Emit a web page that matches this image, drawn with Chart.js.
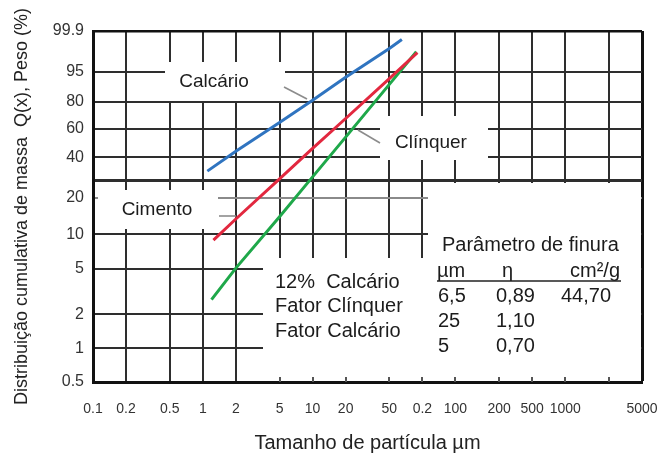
<!DOCTYPE html>
<html>
<head>
<meta charset="utf-8">
<script src="https://cdn.jsdelivr.net/npm/chart.js@4/dist/chart.umd.min.js"></script>
<style>
html,body{margin:0;padding:0;background:#fff}
#wrap{width:663px;height:455px;position:relative}
</style>
</head>
<body>
<div id="wrap"><canvas id="c" width="663" height="455"></canvas></div>
<script>
// ---- Data ----
const xGridValues = [0.1,0.2,0.5,1,2,5,10,20,50,100,200,500,1000,2000,5000,10000];
const xTickLabels = ["0.1","0.2","0.5","1","2","5","10","20","50","0.2","100","200","500","1000","","5000"];
const yGridValues = [0.5,1,2,5,10,20,27,40,60,80,95,99.9];
const yTickLabels = ["0.5","1","2","5","10","20","","40","60","80","95","99.9"];

const calcarioX = [1.1, 2, 5, 10, 20, 50, 65];
const calcarioQ = [32, 44, 65, 81, 93, 99.2, 99.7];
const cimentoX  = [1.25, 2, 5, 10, 20, 50, 90];
const cimentoQ  = [8.9, 13.4, 28, 46, 68, 92.5, 98.8];
const clinquerX = [1.2, 2, 5, 10, 20, 50, 88];
const clinquerQ = [2.7, 5.1, 14, 29, 54, 90, 98.9];

const tableTitle = "Parâmetro de finura";
const tableHead = ["µm", "η", "cm²/g"];
const tableRows = [["6,5","0,89","44,70"],["25","1,10",""],["5","0,70",""]];
const mixLines = ["12%  Calcário", "Fator Clínquer", "Fator Calcário"];

// RRSB transform
const rr = q => Math.log(-Math.log(1 - q / 100));
const pts = (xs, qs) => xs.map((x, i) => ({x: x, y: rr(qs[i])}));

const FONT = "'Liberation Sans', Arial, sans-serif";

// ---- Annotation layout (pixels) ----
const whiteBoxes = [
  [165, 62, 285, 101],   // Calcário label
  [380, 116, 488, 160],  // Clínquer label
  [98, 190, 218, 229],   // Cimento label
  [263, 258, 641, 379],  // lower text area
  [428, 183, 641, 258]   // table area
];
const pointers = [
  [284, 87, 307, 99],
  [380, 143, 358, 130],
  [219, 216, 236, 216]
];

const annot = {
  id: 'annot',
  beforeDatasetsDraw(chart) {
    const c = chart.ctx;
    c.save();
    c.fillStyle = '#fff';
    whiteBoxes.forEach(b => c.fillRect(b[0], b[1], b[2] - b[0], b[3] - b[1]));
    const xs = chart.scales.x, bottom = chart.chartArea.bottom;
    c.strokeStyle = '#555'; c.lineWidth = 2;
    xGridValues.forEach(v => {
      if (v >= 5 && v < 10000) {
        const px = Math.round(xs.getPixelForValue(v));
        c.beginPath(); c.moveTo(px, bottom); c.lineTo(px, bottom - 5); c.stroke();
      }
    });
    c.strokeStyle = '#8c8c8c'; c.lineWidth = 1.6;
    pointers.forEach(p => { c.beginPath(); c.moveTo(p[0], p[1]); c.lineTo(p[2], p[3]); c.stroke(); });
    c.restore();
  },
  afterDatasetsDraw(chart) {
    const c = chart.ctx;
    c.save();
    c.fillStyle = '#1c1c1c';
    c.textBaseline = 'middle';
    c.font = '19px ' + FONT;
    c.textAlign = 'center';
    c.fillText('Calcário', 214, 82);
    c.fillText('Clínquer', 431, 143);
    c.fillText('Cimento', 157, 210);

    c.font = '20px ' + FONT;
    c.textAlign = 'left';
    mixLines.forEach((t, i) => c.fillText(t, 275, 282 + i * 24.5));

    c.fillText(tableTitle, 442, 245);
    c.fillText(tableHead[0], 437, 271);
    c.fillText(tableHead[1], 502, 271);
    c.textAlign = 'right';
    c.fillText(tableHead[2], 620, 271);
    c.strokeStyle = '#222'; c.lineWidth = 1.5;
    c.beginPath(); c.moveTo(437, 281); c.lineTo(621, 281); c.stroke();
    c.textAlign = 'left';
    const colX = [438, 496, 561];
    tableRows.forEach((r, i) => r.forEach((t, j) => c.fillText(t, colX[j], 296 + i * 25)));
    c.restore();
  }
};

const edgeCol = '#111', gridCol = '#2e2e2e';

new Chart(document.getElementById('c'), {
  type: 'line',
  data: {
    datasets: [
      {label: 'Calcário', data: pts(calcarioX, calcarioQ), borderColor: '#2f74c0', borderWidth: 3, pointRadius: 0, tension: 0},
      {label: 'Cimento', data: pts(cimentoX, cimentoQ), borderColor: '#e2283f', borderWidth: 3, pointRadius: 0, tension: 0},
      {label: 'Clínquer', data: pts(clinquerX, clinquerQ), borderColor: '#1fa84a', borderWidth: 3, pointRadius: 0, tension: 0}
    ]
  },
  options: {
    responsive: false,
    animation: false,
    devicePixelRatio: 1,
    layout: {padding: {top: 31, right: 21, left: 0, bottom: 0}},
    plugins: {legend: {display: false}, tooltip: {enabled: false}},
    scales: {
      x: {
        type: 'logarithmic', min: 0.1, max: 10000,
        afterBuildTicks: s => { s.ticks = xGridValues.map(v => ({value: v})); },
        afterFit: s => { s.height = 73; s.paddingLeft = 0; s.paddingRight = 0; },
        ticks: {autoSkip: false, maxRotation: 0, minRotation: 0, padding: 19,
          callback: (v, i) => xTickLabels[i], color: '#333', font: {family: FONT, size: 14}},
        grid: {drawTicks: false,
          color: ctx => (ctx.index === xGridValues.length - 1 ? edgeCol : gridCol),
          lineWidth: ctx => (ctx.index === xGridValues.length - 1 ? 3 : 2)},
        border: {display: true, color: edgeCol, width: 3},
        title: {display: true, text: 'Tamanho de partícula µm', color: '#222',
          font: {family: FONT, size: 20}, padding: {top: 0, bottom: 0}}
      },
      y: {
        type: 'linear', min: rr(0.5), max: rr(99.9),
        afterBuildTicks: s => { s.ticks = yGridValues.map(v => ({value: rr(v)})); },
        afterFit: s => { s.width = 93; s.paddingTop = 0; s.paddingBottom = 0; },
        ticks: {autoSkip: false, padding: 9,
          callback: (v, i) => yTickLabels[i], color: '#333', font: {family: FONT, size: 16}},
        grid: {drawTicks: false,
          color: ctx => (ctx.index === yGridValues.length - 1 ? edgeCol : (yGridValues[ctx.index] === 20 ? '#8a8a8a' : gridCol)),
          lineWidth: ctx => (ctx.index === yGridValues.length - 1 ? 2.5 : (yGridValues[ctx.index] === 27 ? 3 : 2))},
        border: {display: true, color: edgeCol, width: 3},
        title: {display: true, text: 'Distribuição cumulativa de massa  Q(x), Peso (%)', color: '#222',
          font: {family: FONT, size: 18}, padding: {top: 11, bottom: 0}}
      }
    }
  },
  plugins: [annot]
});
</script>
</body>
</html>
